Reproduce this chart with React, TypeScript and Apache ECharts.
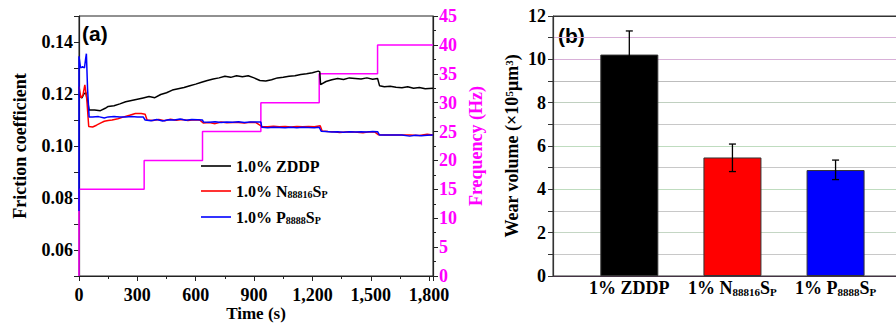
import React, { useEffect, useRef } from 'react';
import * as echarts from 'echarts';

// ---------- (a) friction coefficient vs time ----------
const zddpData: number[][] = [
  [0, 0.1195], [15, 0.1185], [25, 0.120], [35, 0.1205], [45, 0.117], [52, 0.1138], [80, 0.1138], [110, 0.1136],
  [135, 0.1145], [150, 0.1152], [180, 0.1155], [210, 0.1162], [240, 0.117], [270, 0.1175], [300, 0.118],
  [330, 0.1185], [360, 0.119], [390, 0.1186], [420, 0.1198], [450, 0.1205], [480, 0.1215], [510, 0.122],
  [540, 0.1225], [570, 0.1232], [600, 0.1238], [630, 0.1245], [660, 0.1252], [690, 0.1258], [720, 0.1262],
  [750, 0.1268], [780, 0.1264], [810, 0.127], [840, 0.1266], [870, 0.127], [900, 0.1262], [930, 0.1252],
  [960, 0.125], [990, 0.1255], [1020, 0.1262], [1050, 0.1264], [1080, 0.1268], [1110, 0.127], [1140, 0.1275],
  [1170, 0.1278], [1200, 0.1282], [1230, 0.1288], [1238, 0.1285], [1242, 0.1236], [1270, 0.1248],
  [1300, 0.1255], [1330, 0.126], [1360, 0.1256], [1390, 0.1262], [1420, 0.126], [1450, 0.1258],
  [1480, 0.1262], [1510, 0.1257], [1535, 0.126], [1545, 0.1232], [1570, 0.1228], [1600, 0.123],
  [1630, 0.1226], [1660, 0.1224], [1690, 0.1228], [1720, 0.1222], [1750, 0.1225], [1780, 0.122], [1820, 0.1222],
];

const n88816Data: number[][] = [
  [0, 0.1228], [10, 0.1185], [20, 0.1195], [30, 0.1235], [40, 0.118], [50, 0.1075], [70, 0.1073], [90, 0.108],
  [110, 0.1088], [130, 0.1095], [150, 0.1098], [170, 0.110], [200, 0.1105], [230, 0.1112], [260, 0.1118],
  [290, 0.1125], [320, 0.1125], [340, 0.1122], [350, 0.110], [380, 0.1098], [410, 0.1102], [440, 0.1097],
  [470, 0.1103], [500, 0.1099], [530, 0.1102], [560, 0.1098], [590, 0.1101], [620, 0.110], [640, 0.1088],
  [670, 0.109], [700, 0.1086], [730, 0.1092], [760, 0.1089], [790, 0.109], [820, 0.109], [850, 0.1088],
  [880, 0.1091], [910, 0.109], [940, 0.1075], [970, 0.1074], [1000, 0.1076], [1030, 0.1074], [1060, 0.1075],
  [1090, 0.1073], [1120, 0.1075], [1150, 0.1074], [1180, 0.1075], [1210, 0.1074], [1240, 0.1078],
  [1250, 0.1058], [1280, 0.1056], [1310, 0.1055], [1340, 0.1052], [1370, 0.1054], [1400, 0.1055],
  [1430, 0.1053], [1460, 0.1051], [1490, 0.1055], [1520, 0.1054], [1540, 0.1043], [1570, 0.1042],
  [1600, 0.1042], [1650, 0.1042], [1700, 0.1042], [1750, 0.104], [1790, 0.1045], [1820, 0.1042],
];

const p8888Data: number[][] = [
  [0, 0.075], [0, 0.1345], [8, 0.130], [18, 0.1305], [28, 0.130], [34, 0.1335], [38, 0.1355], [44, 0.122],
  [52, 0.1112], [70, 0.1112], [100, 0.1113], [130, 0.1108], [150, 0.1112], [180, 0.1113], [210, 0.1112],
  [240, 0.1112], [270, 0.1113], [300, 0.1112], [330, 0.1112], [340, 0.110], [370, 0.1097], [400, 0.1102],
  [430, 0.1096], [460, 0.1101], [490, 0.110], [520, 0.1104], [550, 0.1099], [580, 0.1102], [610, 0.1101],
  [635, 0.110], [640, 0.1092], [670, 0.1091], [700, 0.1093], [730, 0.109], [760, 0.1092], [790, 0.1091],
  [820, 0.1093], [850, 0.109], [880, 0.1092], [910, 0.1092], [935, 0.1092], [940, 0.1072], [970, 0.107],
  [1000, 0.1072], [1030, 0.1071], [1060, 0.107], [1090, 0.1072], [1120, 0.107], [1150, 0.1072],
  [1180, 0.1071], [1210, 0.107], [1235, 0.1072], [1245, 0.1057], [1270, 0.1056], [1300, 0.1054],
  [1330, 0.1055], [1360, 0.1053], [1390, 0.1055], [1420, 0.1054], [1450, 0.1055], [1480, 0.1054],
  [1510, 0.1056], [1535, 0.1055], [1545, 0.1042], [1580, 0.1042], [1620, 0.1042], [1660, 0.1042],
  [1700, 0.1038], [1730, 0.1041], [1760, 0.1039], [1790, 0.1041], [1820, 0.1042],
];

const freqTime = [0, 0, 335, 635, 935, 1235, 1535, 1820];
const freqHz = [0, 15, 20, 25, 30, 35, 40, 40];

const seriesNames = ['1.0% ZDDP', '1.0% N88816SP', '1.0% P8888SP'];

// ---------- (b) wear volume ----------
const wearCats = ['1% ZDDP', '1% N88816SP', '1% P8888SP'];
const wearMean = [10.22, 5.47, 4.89];
const wearErrLow = [9.13, 4.82, 4.45];
const wearErrHigh = [11.31, 6.09, 5.35];

const serif = '"Liberation Serif", "Times New Roman", serif';
const sans = '"Liberation Sans", Arial, sans-serif';

function richName(s: string): string {
  const m = s.match(/^(.* [NP])(\d+S?)(S)(P)$/);
  if (!m) return `{b|${s}}`;
  return `{b|${m[1]}}{s|${m[2]}}{b|${m[3]}}{s|${m[4]}}`;
}

const bold18 = { fontFamily: serif, fontWeight: 'bold' as const, fontSize: 18, color: '#000' };

export default function App() {
  const ref = useRef<HTMLDivElement>(null);
  useEffect(() => {
    const chart = echarts.init(ref.current!, null, { renderer: 'svg' });
    const legendRich = {
      b: { fontFamily: serif, fontWeight: 'bold', fontSize: 16, color: '#000', verticalAlign: 'bottom' },
      s: { fontFamily: serif, fontWeight: 'bold', fontSize: 10, color: '#000', verticalAlign: 'bottom' },
    };
    const legendTops = [153, 178, 204];
    const seriesColors = ['#000000', '#ff0000', '#0000ff'];
    const frictionSets = [zddpData, n88816Data, p8888Data];
    const option: any = {
      animation: false,
      grid: [
        { left: 79, right: 463, top: 16, bottom: 47, show: true, borderColor: '#222', borderWidth: 1, outerBoundsMode: 'none', containLabel: false },
        { left: 553, right: -20, top: 16, bottom: 47, show: true, borderColor: '#333', borderWidth: 1, outerBoundsMode: 'none', containLabel: false },
      ],
      legend: seriesNames.map((n, i) => ({
        data: [n],
        left: 196,
        top: legendTops[i],
        icon: 'rect',
        itemWidth: 30,
        itemHeight: 1.6,
        formatter: (name: string) => richName(name),
        textStyle: { rich: legendRich },
        selectedMode: false,
      })),
      xAxis: [
        {
          type: 'value', gridIndex: 0, min: 0, max: 1820, interval: 300,
          axisLine: { show: true, onZero: false, lineStyle: { color: '#222', width: 1.2 } },
          axisTick: { show: true, length: 5, lineStyle: { color: '#222' } },
          minorTick: { show: true, splitNumber: 2, length: 3, lineStyle: { color: '#222' } },
          splitLine: { show: false },
          axisLabel: { ...bold18, margin: 10, formatter: (v: number) => v.toLocaleString('en-US') },
          name: 'Time (s)', nameLocation: 'middle', nameGap: 29, nameMoveOverlap: false,
          nameTextStyle: { ...bold18, fontSize: 17 },
        },
        {
          type: 'value', gridIndex: 1, min: 0.26, max: 3.78,
          axisLine: { show: true, onZero: false, lineStyle: { color: '#443344', width: 1.2 } },
          axisTick: { show: false },
          splitLine: { show: false },
          axisLabel: {
            customValues: [1, 2, 3],
            margin: 3,
            formatter: (v: number) => richName(wearCats[Math.round(v) - 1] || ''),
            rich: {
              b: { ...bold18, verticalAlign: 'bottom' },
              s: { fontFamily: serif, fontWeight: 'bold', fontSize: 11, color: '#000', verticalAlign: 'bottom' },
            },
          },
        },
      ],
      yAxis: [
        {
          type: 'value', gridIndex: 0, min: 0.05, max: 0.15, interval: 0.01,
          axisLine: { show: true, lineStyle: { color: '#222', width: 1.2 } },
          axisTick: { show: true, length: 5, lineStyle: { color: '#222' } },
          splitLine: { show: false },
          axisLabel: {
            ...bold18, margin: 6,
            formatter: (v: number) => { const k = Math.round(v * 100); return k % 2 === 0 ? (k / 100).toFixed(2) : ''; },
          },
          name: 'Friction coefficient', nameLocation: 'middle', nameGap: 50, nameMoveOverlap: false,
          nameTextStyle: { ...bold18 },
        },
        {
          type: 'value', gridIndex: 0, position: 'right', min: 0, max: 45, interval: 5,
          axisLine: { show: true, lineStyle: { color: '#222', width: 1.2 } },
          axisTick: { show: true, length: 5, lineStyle: { color: '#222' } },
          minorTick: { show: true, splitNumber: 2, length: 3, lineStyle: { color: '#222' } },
          splitLine: { show: false },
          axisLabel: { ...bold18, color: '#ff00ff', margin: 6 },
          name: 'Frequency (Hz)', nameLocation: 'middle', nameGap: 34, nameRotate: 90, nameMoveOverlap: false,
          nameTextStyle: { ...bold18, color: '#ff00ff' },
        },
        {
          type: 'value', gridIndex: 1, min: 0, max: 12, interval: 1,
          axisLine: { show: true, lineStyle: { color: '#333', width: 1.2 } },
          axisTick: { show: true, length: 5, lineStyle: { color: '#333' } },
          splitLine: {
            show: true,
            lineStyle: {
              width: 1,
              color: ['#555555', '#c8c8c8', '#c4d6c4', '#c8c8c8', '#bfdcbf', '#c8c8c8', '#bfdcbf',
                '#c8c8c8', '#c0d0c0', '#bdbdbd', '#d8b0d8', '#d8b0d8', '#333333'],
            },
          },
          axisLabel: {
            ...bold18, margin: 7,
            formatter: (v: number) => (Math.round(v) % 2 === 0 ? String(Math.round(v)) : ''),
          },
          name: '{b|Wear volume (×10}{sup|5}{b|μm}{sup|3}{b|)}',
          nameLocation: 'middle', nameGap: 32, nameMoveOverlap: false,
          nameTextStyle: {
            rich: {
              b: { ...bold18, verticalAlign: 'bottom' },
              sup: { fontFamily: serif, fontWeight: 'bold', fontSize: 11, color: '#000', verticalAlign: 'top' },
            },
          },
        },
      ],
      graphic: [
        { type: 'text', left: 82, top: 23, style: { text: '(a)', fontFamily: sans, fontWeight: 'bold', fontSize: 21, fill: '#000' } },
        { type: 'text', left: 558, top: 25, style: { text: '(b)', fontFamily: sans, fontWeight: 'bold', fontSize: 21, fill: '#000' } },
      ],
      series: [
        {
          name: 'Frequency', type: 'line', xAxisIndex: 0, yAxisIndex: 1, step: 'end',
          data: freqTime.map((t, i) => [t, freqHz[i]]),
          symbol: 'none', lineStyle: { color: '#ff00ff', width: 1.5 }, itemStyle: { color: '#ff00ff' },
        },
        ...frictionSets.map((d, i) => ({
          name: seriesNames[i], type: 'line', xAxisIndex: 0, yAxisIndex: 0,
          data: d, symbol: 'none',
          lineStyle: { color: seriesColors[i], width: 1.5 }, itemStyle: { color: seriesColors[i] },
        })),
        {
          name: 'Wear', type: 'bar', xAxisIndex: 1, yAxisIndex: 2, barWidth: 58,
          data: wearMean.map((v, i) => ({
            value: [i + 1, v],
            itemStyle: { color: ['#000000', '#ff0000', '#0000ff'][i], borderColor: '#333', borderWidth: 1 },
          })),
        },
        {
          name: 'WearErr', type: 'custom', xAxisIndex: 1, yAxisIndex: 2, z: 5,
          encode: { x: 0, y: [1, 2] },
          data: wearMean.map((_, i) => [i + 1, wearErrLow[i], wearErrHigh[i]]),
          renderItem: (params: any, api: any) => {
            const x = api.value(0);
            const hi = api.coord([x, api.value(2)]);
            const lo = api.coord([x, api.value(1)]);
            const st = { stroke: '#000', lineWidth: 1.3 };
            return {
              type: 'group',
              children: [
                { type: 'line', shape: { x1: hi[0], y1: hi[1], x2: lo[0], y2: lo[1] }, style: st },
                { type: 'line', shape: { x1: hi[0] - 3.5, y1: hi[1], x2: hi[0] + 3.5, y2: hi[1] }, style: st },
                { type: 'line', shape: { x1: lo[0] - 3.5, y1: lo[1], x2: lo[0] + 3.5, y2: lo[1] }, style: st },
              ],
            };
          },
        },
      ],
    };
    chart.setOption(option);
    return () => chart.dispose();
  }, []);
  return <div ref={ref} style={{ position: 'absolute', left: 0, top: 0, width: 896, height: 323 }} />;
}
